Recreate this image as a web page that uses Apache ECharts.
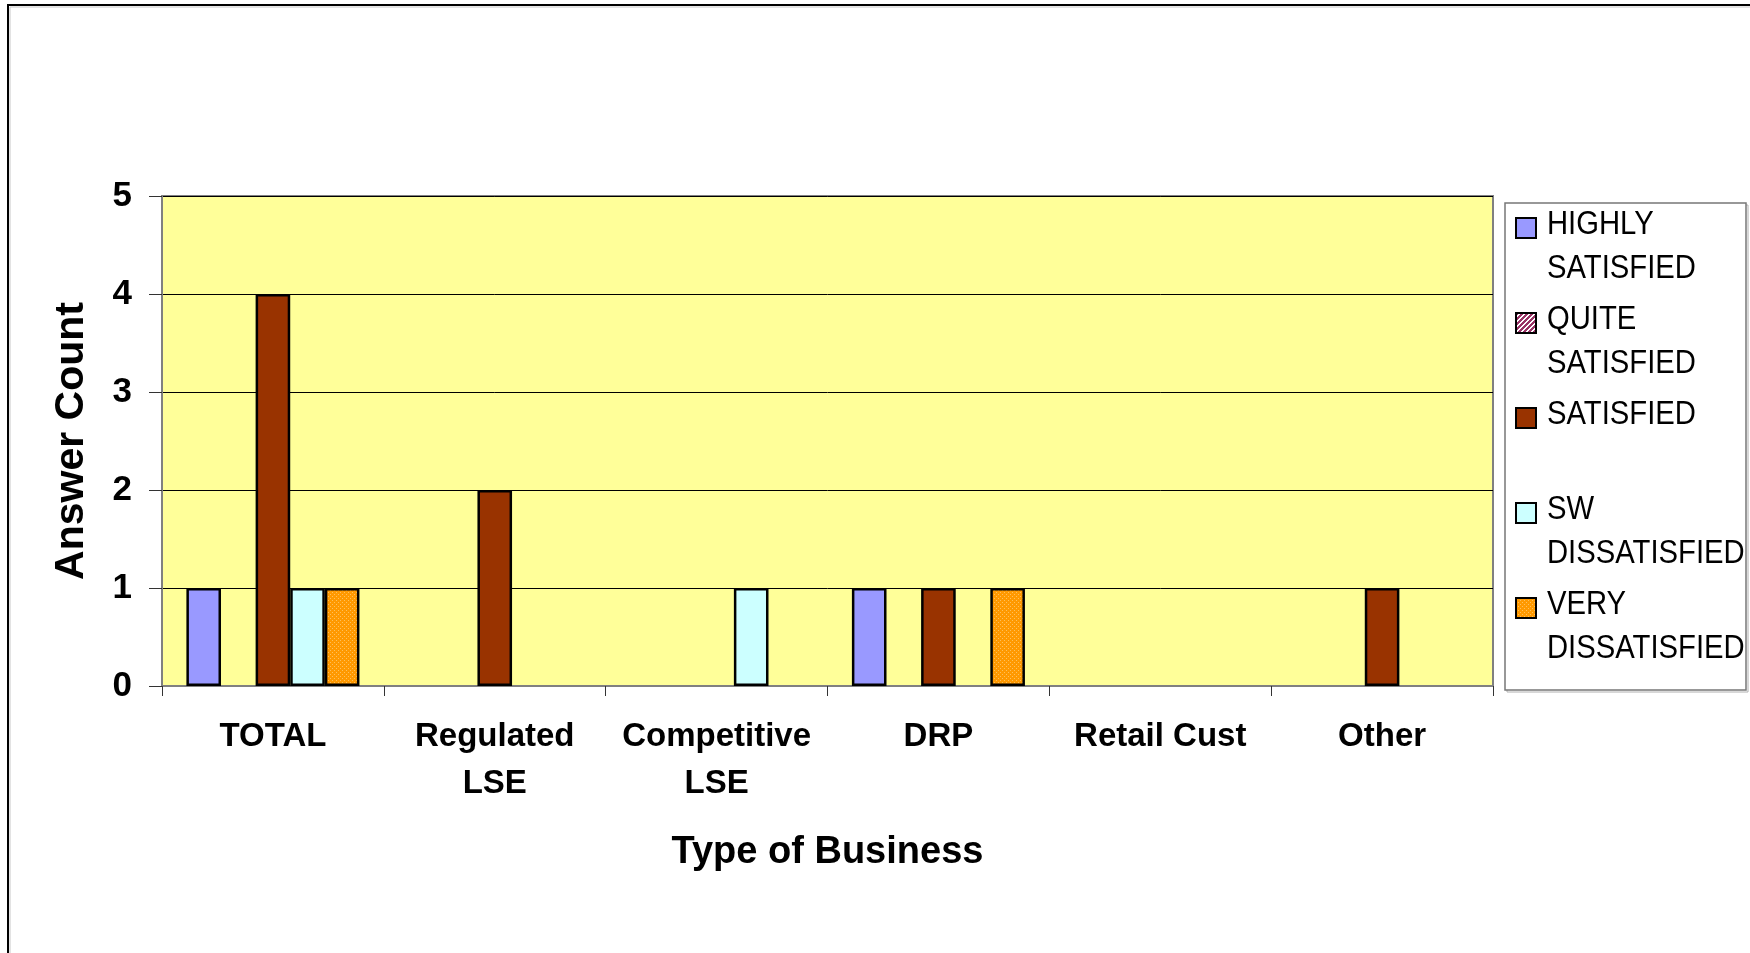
<!DOCTYPE html>
<html>
<head>
<meta charset="utf-8">
<style>
  html, body { margin: 0; padding: 0; background: #ffffff; }
  #chart { width: 1750px; height: 953px; }
</style>
<script src="https://cdn.jsdelivr.net/npm/echarts@6/dist/echarts.min.js"></script>
</head>
<body>
<div id="chart"></div>
<script>
// ---- data ----
var categories = ['TOTAL', 'Regulated\nLSE', 'Competitive\nLSE', 'DRP', 'Retail Cust', 'Other'];
var seriesNames = ['HIGHLY SATISFIED', 'QUITE SATISFIED', 'SATISFIED', 'SW DISSATISFIED', 'VERY DISSATISFIED'];
var legendLabels = ['HIGHLY\nSATISFIED', 'QUITE\nSATISFIED', 'SATISFIED', 'SW\nDISSATISFIED', 'VERY\nDISSATISFIED'];
var highlySatisfied   = [1, 0, 0, 1, 0, 0];
var quiteSatisfied    = [0, 0, 0, 0, 0, 0];
var satisfied         = [4, 2, 0, 1, 0, 1];
var swDissatisfied    = [1, 0, 1, 0, 0, 0];
var veryDissatisfied  = [1, 0, 0, 1, 0, 0];
var yTicks = [0, 1, 2, 3, 4, 5];
var xAxisTitle = 'Type of Business';
var yAxisTitle = 'Answer Count';

// ---- patterns ----
function hatchPattern() {
  var c = document.createElement('canvas');
  c.width = 5; c.height = 5;
  var g = c.getContext('2d');
  g.fillStyle = '#ffffff'; g.fillRect(0, 0, 5, 5);
  g.fillStyle = '#993366';
  for (var i = 0; i < 5; i++) {
    g.fillRect((4 - i) % 5, i, 1, 1);
    g.fillRect((5 - i) % 5, i, 1, 1);
    g.fillRect((6 - i) % 5, i, 1, 1);
  }
  return { image: c, repeat: 'repeat' };
}
function dotPattern() {
  var c = document.createElement('canvas');
  c.width = 4; c.height = 4;
  var g = c.getContext('2d');
  g.fillStyle = '#FF9900'; g.fillRect(0, 0, 4, 4);
  g.fillStyle = '#FFC05A';
  g.fillRect(0, 0, 1, 1); g.fillRect(2, 2, 1, 1);
  return { image: c, repeat: 'repeat' };
}

var seriesValues = [highlySatisfied, quiteSatisfied, satisfied, swDissatisfied, veryDissatisfied];
var seriesColors = ['#9999FF', hatchPattern(), '#993300', '#CCFFFF', dotPattern()];

var FONT = "'Liberation Sans', Arial, sans-serif";

var series = seriesNames.map(function (name, i) {
  return {
    name: name,
    type: 'bar',
    barGap: '0%',
    barCategoryGap: '22%',
    itemStyle: { color: seriesColors[i], borderColor: '#000000', borderWidth: 2.5 },
    data: seriesValues[i].map(function (v) {
      return v === 0 ? { value: 0, itemStyle: { borderWidth: 0 } } : v;
    }),
    animation: false
  };
});

// ---- legend drawn as graphic (icon aligned with first text line) ----
var legendX = 1505, legendY = 203, legendW = 241, legendH = 487;
var legendGraphics = [
  { type: 'rect', shape: { x: legendX + 2, y: legendY + 2, width: legendW, height: legendH },
    style: { fill: 'none', stroke: '#b0b0b0', lineWidth: 1 }, z: 99 },
  { type: 'rect', shape: { x: legendX, y: legendY, width: legendW, height: legendH },
    style: { fill: '#ffffff', stroke: '#777777', lineWidth: 1.5 }, z: 100 }
];
legendLabels.forEach(function (label, i) {
  var top = 214 + i * 95;
  legendGraphics.push({
    type: 'rect',
    shape: { x: 1516, y: top + 4, width: 20, height: 20 },
    style: { fill: seriesColors[i], stroke: '#000000', lineWidth: 2 },
    z: 101
  });
  legendGraphics.push({
    type: 'text',
    x: 1547, y: top - 11,
    scaleX: 0.86,
    style: {
      text: label,
      font: '34px ' + FONT,
      fill: '#000000',
      lineHeight: 43.5,
      textVerticalAlign: 'top',
      verticalAlign: 'top',
      align: 'left'
    },
    z: 101
  });
});

// outer frame (top and left lines)
var frameGraphics = [
  { type: 'polyline', shape: { points: [[8, 953], [8, 5], [1750, 5]] },
    style: { stroke: '#000000', lineWidth: 2, fill: 'none' }, z: 50 },
  { type: 'polyline', shape: { points: [[10, 953], [10, 7], [1750, 7]] },
    style: { stroke: '#c8c8c8', lineWidth: 1, fill: 'none' }, z: 49 }
];

var chart = echarts.init(document.getElementById('chart'), null, { renderer: 'canvas' });
chart.setOption({
  backgroundColor: '#ffffff',
  animation: false,
  grid: {
    left: 162, right: 257, top: 196, bottom: 267,
    show: true, backgroundColor: '#FFFF99', borderColor: '#808080', borderWidth: 2
  },
  xAxis: {
    type: 'category',
    data: categories,
    name: xAxisTitle,
    nameLocation: 'middle',
    nameGap: 148,
    nameTextStyle: { fontFamily: FONT, fontWeight: 'bold', fontSize: 38, color: '#000' },
    axisLine: { show: true, lineStyle: { color: '#808080', width: 2 } },
    axisTick: { show: true, inside: false, length: 10, alignWithLabel: false, lineStyle: { color: '#333', width: 1 } },
    axisLabel: { interval: 0, margin: 27, fontFamily: FONT, fontWeight: 'bold', fontSize: 33, lineHeight: 47, color: '#000' },
    splitLine: { show: false }
  },
  yAxis: {
    type: 'value',
    min: yTicks[0], max: yTicks[yTicks.length - 1], interval: 1,
    name: yAxisTitle,
    nameLocation: 'middle',
    nameGap: 70,
    nameRotate: 90,
    nameTextStyle: { fontFamily: FONT, fontWeight: 'bold', fontSize: 41, color: '#000' },
    axisLine: { show: true, lineStyle: { color: '#808080', width: 2 } },
    axisTick: { show: true, inside: false, length: 13, lineStyle: { color: '#333', width: 1 } },
    axisLabel: { margin: 30, fontFamily: FONT, fontWeight: 'bold', fontSize: 35, color: '#000' },
    splitLine: { show: true, lineStyle: { color: '#000000', width: 1 } }
  },
  legend: { show: false },
  series: series,
  graphic: frameGraphics.concat(legendGraphics)
});
</script>
</body>
</html>
